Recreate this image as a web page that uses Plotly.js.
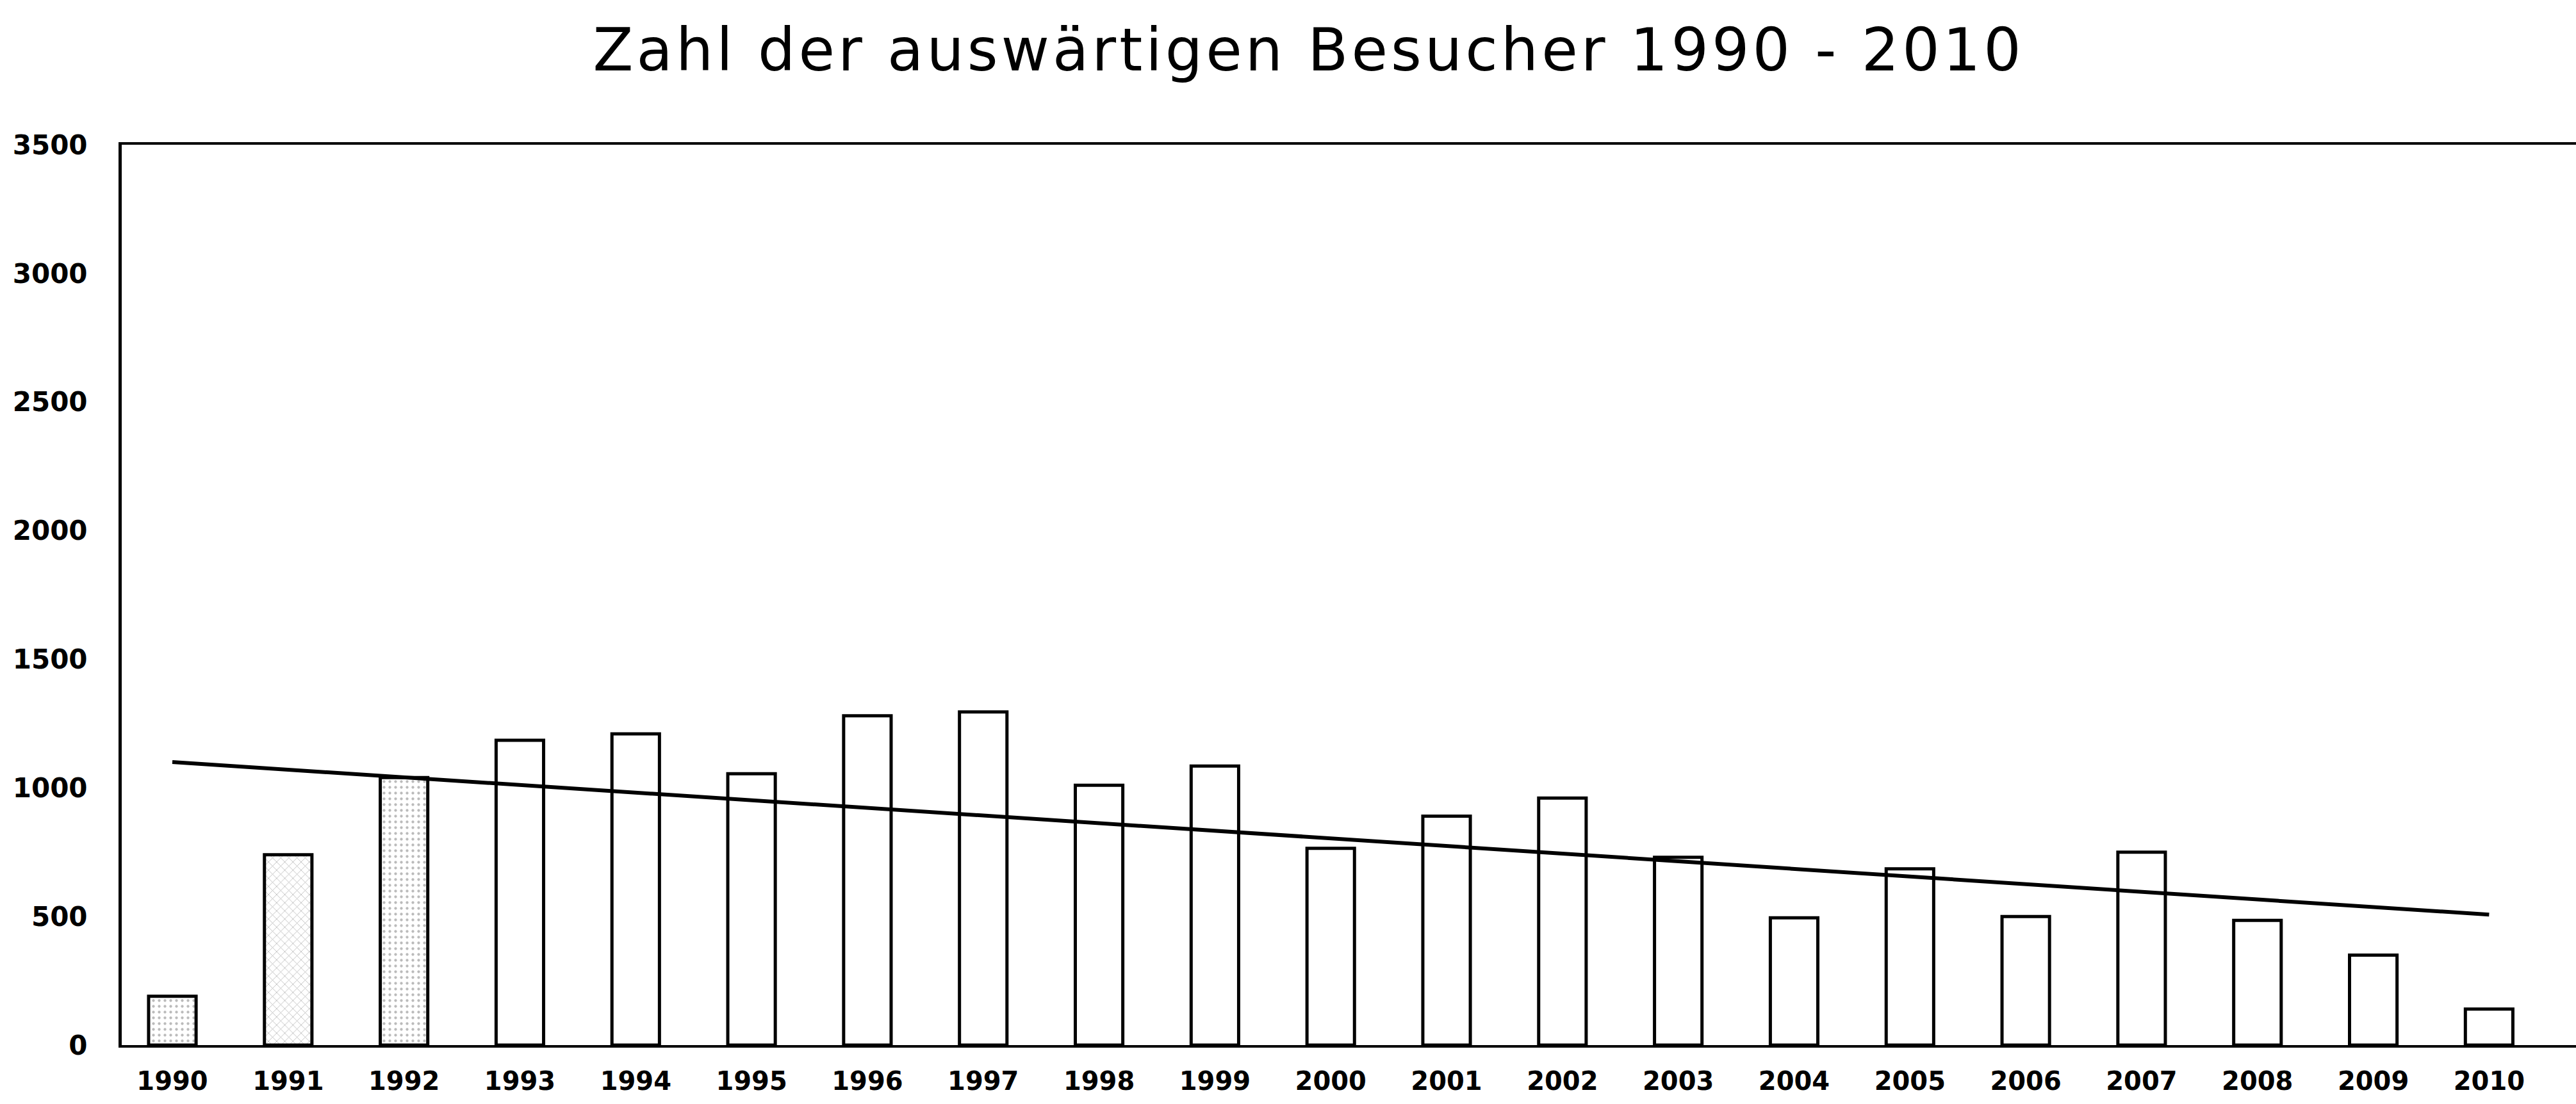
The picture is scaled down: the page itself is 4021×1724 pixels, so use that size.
<!DOCTYPE html>
<html>
<head>
<meta charset="utf-8">
<script src="https://cdn.plot.ly/plotly-3.0.1.min.js"></script>
<style>
  html, body { margin: 0; padding: 0; background: #ffffff; }
  #chart { width: 4021px; height: 1724px; }
  .gtitle { letter-spacing: 5px; }
</style>
</head>
<body>
<div id="chart"></div>
<script>
// Data
const years = ['1990','1991','1992','1993','1994','1995','1996','1997','1998','1999','2000',
               '2001','2002','2003','2004','2005','2006','2007','2008','2009','2010'];
const visitors = [190, 740, 1040, 1185, 1210, 1055, 1280, 1295, 1010, 1085, 765,
                  890, 960, 730, 495, 685, 500, 750, 485, 350, 140];
const barTexture = ['.', 'x', '.', '', '', '', '', '', '', '', '',
                    '', '', '', '', '', '', '', '', '', ''];
const trendYears = ['1990', '2010'];
const trendValues = [1100, 507];
const yTicks = [0, 500, 1000, 1500, 2000, 2500, 3000, 3500];
const titleText = 'Zahl der auswärtigen Besucher 1990 - 2010';

const bars = {
  type: 'bar',
  x: years,
  y: visitors,
  width: 0.41,
  marker: {
    color: '#ffffff',
    line: { color: '#000000', width: 5 },
    pattern: { shape: barTexture, fgcolor: '#777777', bgcolor: '#ffffff', size: 9, solidity: 0.18, fillmode: 'overlay' }
  },
  hoverinfo: 'x+y',
  showlegend: false
};

const trend = {
  type: 'scatter',
  mode: 'lines',
  x: trendYears,
  y: trendValues,
  line: { color: '#000000', width: 6 },
  hoverinfo: 'skip',
  showlegend: false
};

const layout = {
  width: 4021,
  height: 1724,
  paper_bgcolor: '#ffffff',
  plot_bgcolor: '#ffffff',
  font: { family: 'DejaVu Sans, Arial, sans-serif', color: '#000000' },
  margin: { l: 190, r: 0, t: 226, b: 92, pad: 0 },
  title: {
    text: titleText,
    font: { family: 'DejaVu Sans, Arial, sans-serif', size: 92, color: '#000000' },
    xref: 'container', yref: 'container',
    x: 0.508, xanchor: 'center',
    y: 0.955, yanchor: 'middle'
  },
  xaxis: {
    type: 'category',
    range: [-0.437, 20.75],
    showgrid: false,
    zeroline: false,
    showline: true,
    linecolor: '#000000',
    linewidth: 4,
    mirror: true,
    ticks: '',
    ticklabelstandoff: 18,
    tickfont: { family: 'DejaVu Sans, Arial, sans-serif', size: 40, weight: 'bold', color: '#000000' },
    fixedrange: true
  },
  yaxis: {
    range: [0, 3500],
    tickvals: yTicks,
    ticktext: yTicks.map(String),
    showgrid: false,
    zeroline: false,
    showline: true,
    linecolor: '#000000',
    linewidth: 5,
    ticks: '',
    ticklabelstandoff: 40,
    tickfont: { family: 'DejaVu Sans, Arial, sans-serif', size: 42, weight: 'bold', color: '#000000' },
    fixedrange: true
  },
  bargap: 0.59
};

Plotly.newPlot('chart', [bars, trend], layout, { staticPlot: true, displayModeBar: false });
</script>
</body>
</html>
